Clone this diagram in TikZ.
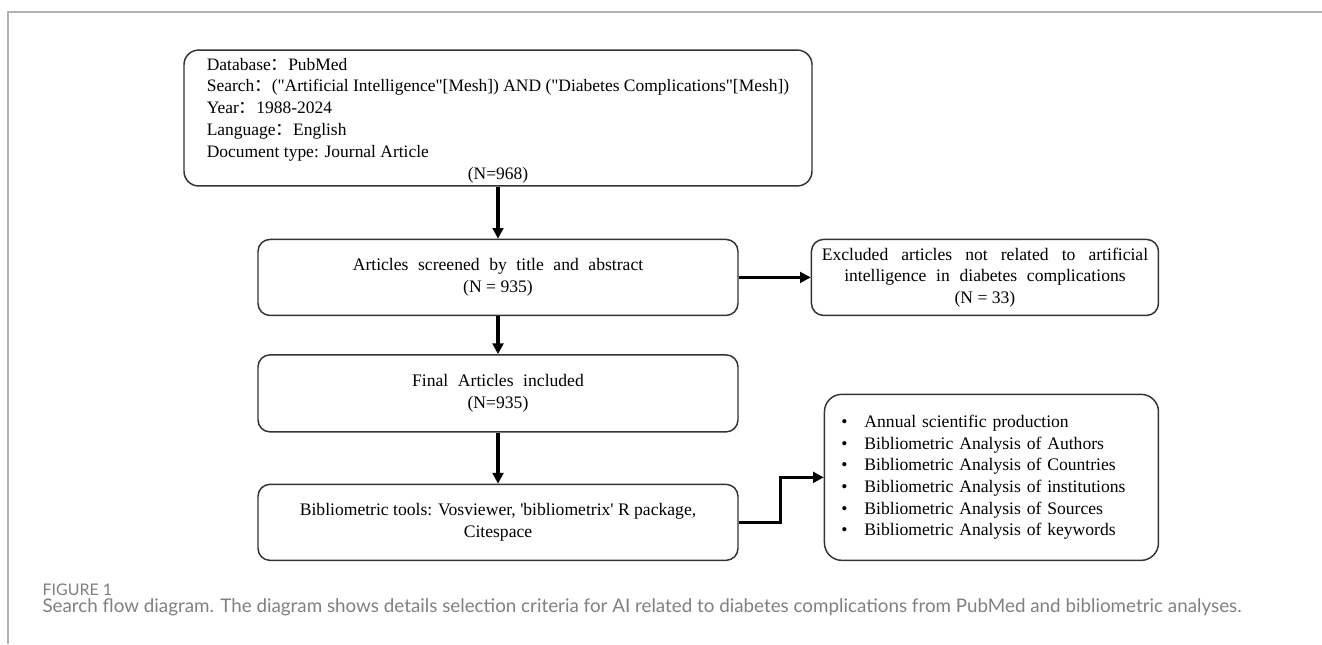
\documentclass[tikz,border=0pt]{standalone}
\usepackage{fontspec}
\setmainfont{Liberation Serif}[Ligatures=TeXOff]
\newfontfamily\capfont{Lato}
\newfontfamily\cjk{Noto Sans CJK SC}
\usetikzlibrary{shapes,arrows.meta,positioning}

\newcommand{\fwcolon}{{\cjk ：}}
\newcommand{\bitem}[1]{\makebox[17.25pt][l]{\textbullet}#1}
\newcommand{\spreadline}[2]{{\spaceskip=#1 plus 1pt\relax #2}}

\begin{document}
\begin{tikzpicture}[
    x=0.75pt, y=-0.75pt,
    thick,
    flow_node/.style={rectangle, rounded corners=9pt, draw=black!80, line width=1.1pt, inner sep=0pt, align=center, font=\fontsize{13.2}{16.3}\selectfont},
    arrow/.style={line width=2.3pt, -{Triangle[length=8pt,width=8pt]}},
    frame_line/.style={draw=black!30, line width=1.1pt},
    caption_text/.style={anchor=west, inner sep=0pt, text=black!50}
]
\useasboundingbox (0,0) rectangle (1322,644);

% Figure frame
\draw[frame_line] (8,644) -- (8,12) -- (1322,12);

% Search box
\node[flow_node, rounded corners=11pt, minimum width=471pt, minimum height=100.5pt, font=\fontsize{13.1}{16.4}\selectfont] (search) at (498,118) {\begin{tabular}{@{}l@{}}
\rule{0pt}{15pt}Database\fwcolon PubMed\\
Search\fwcolon("Artificial Intelligence"[Mesh]) AND ("Diabetes Complications"[Mesh])\\
Year\fwcolon 1988-2024\\
Language\fwcolon English\\
Document type: Journal Article\\
\multicolumn{1}{@{}c@{}}{(N=968)}
\end{tabular}};

% Main column
\node[flow_node, minimum width=360pt, minimum height=57pt, below=39pt of search] (screen) {\spreadline{7.2pt}{Articles screened by title and abstract}\\(N = 935)};
\node[flow_node, minimum width=360pt, minimum height=57.75pt, below=28.5pt of screen] (final) {\spreadline{7.2pt}{Final Articles included}\\(N=935)};
\node[flow_node, minimum width=360pt, minimum height=57pt, below=38.25pt of final] (tools) {Bibliometric tools: Vosviewer, 'bibliometrix' R package,\\Citespace};

% Side boxes
\node[flow_node, minimum width=260.25pt, minimum height=57pt, right=54pt of screen] (excluded) {\spreadline{9.8pt}{Excluded articles not related to artificial}\\\spreadline{7.3pt}{intelligence in diabetes complications}\\(N = 33)};
\node[flow_node, rounded corners=13pt, minimum width=250.5pt, minimum height=124.5pt, text width=225pt, align=left, right=63.75pt of tools.south east, anchor=south west] (results) {\bitem{Annual scientific production}\\
\bitem{Bibliometric Analysis of Authors}\\
\bitem{Bibliometric Analysis of Countries}\\
\bitem{Bibliometric Analysis of institutions}\\
\bitem{Bibliometric Analysis of Sources}\\
\bitem{Bibliometric Analysis of keywords}};

% Connectors
\draw[arrow] (search) -- (screen);
\draw[arrow] (screen) -- (excluded);
\draw[arrow] (screen) -- (final);
\draw[arrow] (final) -- (tools);
\draw[arrow] (tools.east) -- ++(31.5pt,0) |- (results.west);

% Caption
\node[caption_text, font=\capfont\fontsize{12}{14}\selectfont] (fig_label) at (42,590) {FIGURE 1};
\node[caption_text, font=\capfont\fontsize{14.1}{17}\selectfont] (fig_caption) at (42,607) {Search flow diagram. The diagram shows details selection criteria for AI related to diabetes complications from PubMed and bibliometric analyses.};

\end{tikzpicture}
\end{document}
